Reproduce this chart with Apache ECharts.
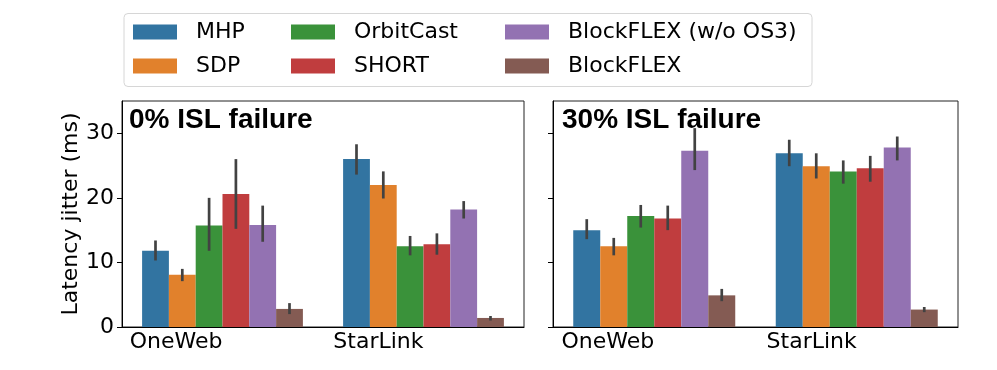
<!DOCTYPE html>
<html>
<head>
<meta charset="utf-8">
<script src="https://cdn.jsdelivr.net/npm/echarts@6/dist/echarts.min.js"></script>
<style>
  html, body { margin: 0; padding: 0; background: #fff; }
  #chart { width: 997px; height: 370px; }
</style>
</head>
<body>
<div id="chart"></div>
<script>
var categories = ["OneWeb", "StarLink"];
var methods = ["MHP", "SDP", "OrbitCast", "SHORT", "BlockFLEX (w/o OS3)", "BlockFLEX"];
var colors = ["#3274a1", "#e1812c", "#3a923a", "#c03d3e", "#9372b2", "#845b53"];
var yTicks = [0, 10, 20, 30];
var panelTitles = ["0% ISL failure", "30% ISL failure"];

// [method][category]
var jitter0 = [[11.8, 26.0], [8.1, 22.0], [15.7, 12.5], [20.6, 12.8], [15.8, 18.2], [2.8, 1.4]];
var low0 = [[10.3, 23.6], [7.1, 19.9], [11.8, 11.1], [15.2, 11.2], [13.2, 16.8], [2.0, 1.0]];
var high0 = [[13.4, 28.3], [9.0, 24.1], [20.0, 14.1], [26.0, 14.5], [18.8, 19.5], [3.7, 1.7]];

var jitter30 = [[15.0, 26.9], [12.5, 24.9], [17.2, 24.1], [16.8, 24.6], [27.3, 27.8], [4.9, 2.7]];
var low30 = [[13.6, 24.9], [11.1, 23.0], [15.4, 22.2], [15.0, 22.5], [24.3, 25.8], [4.0, 2.3]];
var high30 = [[16.7, 29.0], [13.8, 26.9], [18.9, 25.8], [18.8, 26.5], [30.8, 29.5], [5.9, 3.1]];

var chart = echarts.init(document.getElementById("chart"));

function errData(low, high) {
  var out = [];
  for (var m = 0; m < methods.length; m++) {
    for (var c = 0; c < categories.length; c++) {
      out.push([c, m, low[m][c], high[m][c]]);
    }
  }
  return out;
}

function renderErr(params, api) {
  var center = api.coord([api.value(0), 0]);
  var band = api.size([1, 0])[0];
  var bw = band * 0.8 / methods.length;
  var x = center[0] + (api.value(1) - (methods.length - 1) / 2) * bw;
  var y1 = api.coord([api.value(0), api.value(2)])[1];
  var y2 = api.coord([api.value(0), api.value(3)])[1];
  return {
    type: "line",
    shape: { x1: x, y1: y1, x2: x, y2: y2 },
    style: { stroke: "#424242", lineWidth: 2.7 }
  };
}

var grids = [
  { left: 122, top: 101, width: 402, height: 226 },
  { left: 553, top: 101, width: 405, height: 226 }
];

var font = "DejaVu Sans";
var xAxes = [], yAxes = [], series = [], titles = [];
var panels = [[jitter0, low0, high0], [jitter30, low30, high30]];
var titleLeft = [129, 562];

grids.forEach(function (g, i) {
  g.show = true;
  g.borderColor = "#222";
  g.borderWidth = 1;
  g.containLabel = false;
  xAxes.push({
    type: "category",
    gridIndex: i,
    data: categories,
    axisLine: { lineStyle: { color: "#000", width: 1 } },
    axisTick: { alignWithLabel: true, length: 5, lineStyle: { color: "#000" } },
    axisLabel: { align: "right", fontSize: 22, color: "#000", fontFamily: font, margin: 4 }
  });
  yAxes.push({
    type: "value",
    gridIndex: i,
    min: 0,
    max: 35,
    interval: 10,
    name: i === 0 ? "Latency jitter (ms)" : "",
    nameLocation: "middle",
    nameGap: 40,
    nameTextStyle: { fontSize: 22, color: "#000", fontFamily: font },
    splitLine: { show: false },
    axisLine: { show: true, lineStyle: { color: "#000", width: 1 } },
    axisTick: { show: true, length: 5, customValues: yTicks, lineStyle: { color: "#000" } },
    axisLabel: { show: i === 0, customValues: yTicks, fontSize: 22, color: "#000", fontFamily: font, margin: 8 }
  });
  titles.push({
    text: panelTitles[i],
    left: titleLeft[i],
    top: 106,
    padding: 0,
    textStyle: { fontSize: 28, fontWeight: "bold", fontFamily: "Liberation Sans", color: "#000", lineHeight: 28 }
  });
  var vals = panels[i][0];
  methods.forEach(function (name, m) {
    series.push({
      name: name,
      type: "bar",
      xAxisIndex: i,
      yAxisIndex: i,
      data: vals[m],
      barGap: "0%",
      barCategoryGap: "20%",
      itemStyle: { color: colors[m] }
    });
  });
  series.push({
    type: "custom",
    xAxisIndex: i,
    yAxisIndex: i,
    renderItem: renderErr,
    encode: { x: 0, y: [2, 3] },
    data: errData(panels[i][1], panels[i][2]),
    z: 10,
    silent: true
  });
});

var legendLeft = [133, 291, 505];
var legends = legendLeft.map(function (l, k) {
  return {
    orient: "vertical",
    left: l,
    top: 21,
    padding: 0,
    itemGap: 12,
    itemWidth: 44,
    itemHeight: 15,
    icon: "rect",
    selectedMode: false,
    data: [methods[k * 2], methods[k * 2 + 1]],
    textStyle: { fontSize: 22, color: "#000", fontFamily: font, lineHeight: 22, padding: [0, 0, 0, 14] }
  };
});

chart.setOption({
  animation: false,
  backgroundColor: "#fff",
  color: colors,
  title: titles,
  legend: legends,
  grid: grids,
  xAxis: xAxes,
  yAxis: yAxes,
  series: series,
  graphic: [{
    type: "rect",
    shape: { x: 124, y: 13.5, width: 688, height: 73, r: 4 },
    style: { fill: "#fff", stroke: "#d6d6d6", lineWidth: 1 },
    z: -10
  }]
});
</script>
</body>
</html>
